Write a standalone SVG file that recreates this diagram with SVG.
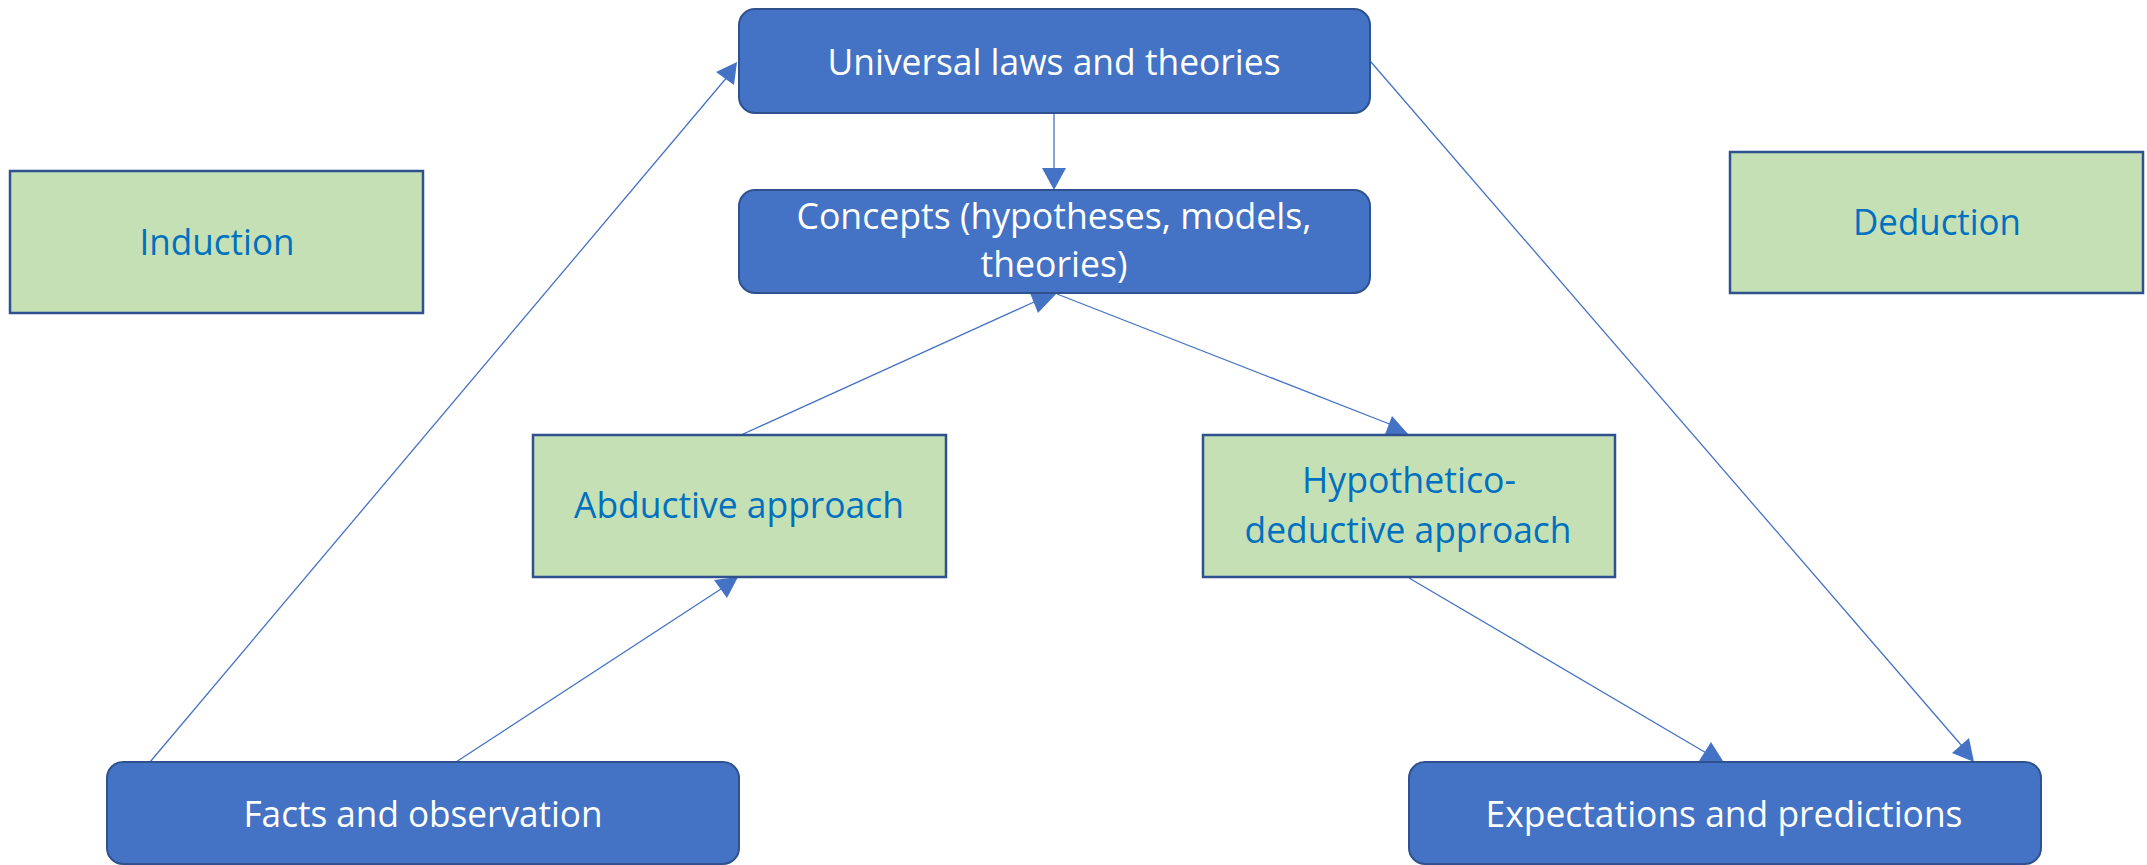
<svg xmlns="http://www.w3.org/2000/svg" width="2147" height="865" viewBox="0 0 2147 865">
<style>
.blue{fill:#4472C4;stroke:#2F528F;stroke-width:2}
.green{fill:#C5E0B4;stroke:#2F528F;stroke-width:2.5}
.wt{fill:#FFFFFF;font-family:"Open Sans","Noto Sans",sans-serif;font-size:36px;text-anchor:middle}
.gt{fill:#0070C0;font-family:"Open Sans","Noto Sans",sans-serif;font-size:36px;text-anchor:middle}
.ln{stroke:#4472C4;stroke-width:1.3;fill:none}
.ah{fill:#4472C4;stroke:none}
</style>
<rect width="2147" height="865" fill="#FFFFFF"/>
<g id="connectors">
<line class="ln" x1="150" y1="762" x2="728" y2="76"/>
<polygon class="ah" points="716,72 737,62 734,85"/>
<line class="ln" x1="456" y1="762" x2="724" y2="587"/>
<polygon class="ah" points="714,580 738,577 727,598"/>
<line class="ln" x1="741" y1="435" x2="1034" y2="302"/>
<polygon class="ah" points="1030,293 1057,293 1038,313"/>
<line class="ln" x1="1057" y1="294" x2="1392" y2="425"/>
<polygon class="ah" points="1384,437 1408,434 1392,416"/>
<line class="ln" x1="1409" y1="578" x2="1708" y2="754"/>
<polygon class="ah" points="1699,761 1723,761 1711,742"/>
<line class="ln" x1="1371" y1="62" x2="1962" y2="746"/>
<polygon class="ah" points="1952,753 1969,738 1974,762"/>
<line class="ln" x1="1054" y1="113" x2="1054" y2="170"/>
<polygon class="ah" points="1042,168 1066,168 1054,190"/>
</g>
<g id="universal">
<rect class="blue" x="739" y="9" width="631" height="104" rx="16"/>
<text class="wt" x="1054" y="75" textLength="453" lengthAdjust="spacingAndGlyphs">Universal laws and theories</text>
</g>
<g id="concepts">
<rect class="blue" x="739" y="190" width="631" height="103" rx="16"/>
<text class="wt" x="1054" y="229" textLength="515" lengthAdjust="spacingAndGlyphs">Concepts (hypotheses, models,</text>
<text class="wt" x="1054" y="277" textLength="147" lengthAdjust="spacingAndGlyphs">theories)</text>
</g>
<g id="induction">
<rect class="green" x="10" y="171" width="413" height="142"/>
<text class="gt" x="217" y="255" textLength="155" lengthAdjust="spacingAndGlyphs">Induction</text>
</g>
<g id="deduction">
<rect class="green" x="1730" y="152" width="413" height="141"/>
<text class="gt" x="1937" y="235" textLength="168" lengthAdjust="spacingAndGlyphs">Deduction</text>
</g>
<g id="abductive">
<rect class="green" x="533" y="435" width="413" height="142"/>
<text class="gt" x="739" y="518" textLength="330" lengthAdjust="spacingAndGlyphs">Abductive approach</text>
</g>
<g id="hypothetico">
<rect class="green" x="1203" y="435" width="412" height="142"/>
<text class="gt" x="1409" y="493" textLength="214" lengthAdjust="spacingAndGlyphs">Hypothetico-</text>
<text class="gt" x="1408" y="543" textLength="327" lengthAdjust="spacingAndGlyphs">deductive approach</text>
</g>
<g id="facts">
<rect class="blue" x="107" y="762" width="632" height="102" rx="16"/>
<text class="wt" x="423" y="827" textLength="359" lengthAdjust="spacingAndGlyphs">Facts and observation</text>
</g>
<g id="expectations">
<rect class="blue" x="1409" y="762" width="632" height="102" rx="16"/>
<text class="wt" x="1724" y="827" textLength="477" lengthAdjust="spacingAndGlyphs">Expectations and predictions</text>
</g>
</svg>
